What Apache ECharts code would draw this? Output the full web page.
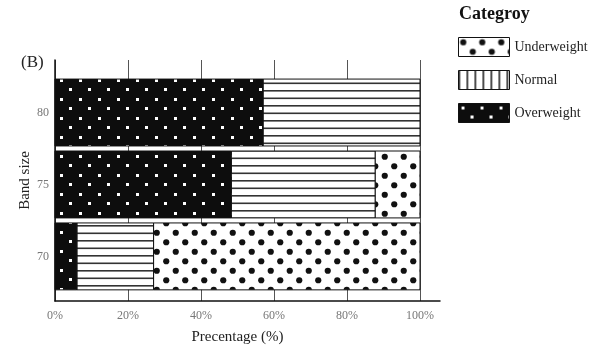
<!DOCTYPE html>
<html><head><meta charset="utf-8">
<script src="https://cdn.jsdelivr.net/npm/echarts@6/dist/echarts.min.js"></script>
<style>html,body{margin:0;padding:0;background:#fff}#c{width:605px;height:360px}</style>
</head><body><div id="c"></div>
<script>
// ---- data ----
const bandSizes = [80, 75, 70];
const seriesNames = ['Underweight', 'Normal', 'Overweight'];
const overweight = [57, 48.3, 6];
const normal = [43, 39.4, 21];
const underweight = [0, 12.3, 73];
const xTicks = [0, 20, 40, 60, 80, 100];

// ---- patterns ----
function mk(w, h, draw) { const c = document.createElement('canvas'); c.width = w; c.height = h; draw(c.getContext('2d')); return c; }
const dotsCanvas = mk(19, 19, g => {
  g.fillStyle = '#fff'; g.fillRect(0, 0, 19, 19); g.fillStyle = '#111';
  [[4.75, 4.75], [14.25, 14.25]].forEach(p => { g.beginPath(); g.arc(p[0], p[1], 3.1, 0, Math.PI * 2); g.fill(); });
});
const squaresCanvas = mk(19, 19, g => {
  g.fillStyle = '#0d0d0d'; g.fillRect(0, 0, 19, 19); g.fillStyle = '#fff';
  g.fillRect(3, 3, 3, 3); g.fillRect(12, 12, 3, 3);
});
const hLinesCanvas = mk(4, 15, g => {
  g.fillStyle = '#fff'; g.fillRect(0, 0, 4, 15); g.fillStyle = '#333';
  g.fillRect(0, 0, 4, 1.6); g.fillRect(0, 7.5, 4, 1.6);
});
const vLinesCanvas = mk(8, 4, g => {
  g.fillStyle = '#fff'; g.fillRect(0, 0, 8, 4); g.fillStyle = '#222';
  g.fillRect(0, 0, 1.6, 4);
});
const pat = c => ({ image: c, repeat: 'repeat' });
const fills = { Underweight: pat(dotsCanvas), Normal: pat(hLinesCanvas), Overweight: pat(squaresCanvas) };
const legendFills = { Underweight: pat(dotsCanvas), Normal: pat(vLinesCanvas), Overweight: pat(squaresCanvas) };

// segments [start, end, band]
const segs = { Overweight: [], Normal: [], Underweight: [] };
bandSizes.forEach((b, i) => {
  const a = overweight[i], n = normal[i], u = underweight[i];
  if (a > 0) segs.Overweight.push([0, a, b]);
  if (n > 0) segs.Normal.push([a, a + n, b]);
  if (u > 0) segs.Underweight.push([a + n, a + n + u, b]);
});
const barH = 4.65;
function makeRender(name) {
  return function (params, api) {
    const y = api.value(2);
    const s = api.coord([api.value(0), y]);
    const e = api.coord([api.value(1), y]);
    const h = api.size([0, barH])[1];
    return { type: 'rect', shape: { x: s[0], y: s[1] - h / 2, width: e[0] - s[0], height: h },
      style: { fill: fills[name], stroke: '#111', lineWidth: 1 } };
  };
}
const serif = 'Liberation Serif, Times New Roman, serif';
const chart = echarts.init(document.getElementById('c'), null, { renderer: 'canvas' });
chart.setOption({
  animation: false,
  backgroundColor: '#fff',
  title: [
    { text: '(B)', left: 16, top: 49, textStyle: { fontFamily: serif, fontSize: 17, fontWeight: 'normal', color: '#222' } },
    { text: 'Categroy', left: 454, top: 0, textStyle: { fontFamily: serif, fontSize: 18, fontWeight: 'bold', color: '#111' } }
  ],
  legend: {
    orient: 'vertical', left: 453, top: 32, itemWidth: 51, itemHeight: 19, itemGap: 13,
    icon: 'rect',
    textStyle: { fontFamily: serif, fontSize: 14, color: '#222' },
    data: seriesNames.map(n => ({ name: n, itemStyle: { color: legendFills[n], borderColor: '#111', borderWidth: 1 } }))
  },
  grid: [
    { left: 55, right: 185, top: 60, bottom: 59 },
    { left: 55, right: 165, top: 60, bottom: 59 }
  ],
  xAxis: [
    { type: 'value', gridIndex: 0, min: xTicks[0], max: xTicks[xTicks.length - 1], interval: 20,
      axisLine: { show: false }, axisTick: { show: false },
      splitLine: { show: true, lineStyle: { color: '#555', width: 1 } },
      axisLabel: { formatter: '{value}%', margin: 9, fontFamily: serif, fontSize: 12, color: '#777' },
      name: 'Precentage (%)', nameLocation: 'middle', nameGap: 29, nameMoveOverlap: false,
      nameTextStyle: { fontFamily: serif, fontSize: 15, color: '#222' } },
    { type: 'value', gridIndex: 1, min: 0, max: 1, axisLine: { show: true, lineStyle: { color: '#111', width: 1.5 } },
      axisTick: { show: false }, axisLabel: { show: false }, splitLine: { show: false } }
  ],
  yAxis: [
    { type: 'value', gridIndex: 0, min: 66.9, max: 83.65,
      axisLine: { show: true, lineStyle: { color: '#111', width: 1.5 } }, axisTick: { show: false },
      splitLine: { show: false },
      axisLabel: { customValues: bandSizes, margin: 6, fontFamily: serif, fontSize: 12, color: '#777' },
      name: 'Band size', nameLocation: 'middle', nameGap: 22, nameRotate: 90, nameMoveOverlap: false,
      nameTextStyle: { fontFamily: serif, fontSize: 15, color: '#222' } },
    { type: 'value', gridIndex: 1, show: false, min: 0, max: 1 }
  ],
  series: seriesNames.map(n => ({
    name: n, type: 'custom', xAxisIndex: 0, yAxisIndex: 0,
    itemStyle: { color: fills[n] },
    encode: { x: [0, 1], y: 2 },
    renderItem: makeRender(n), data: segs[n]
  }))
});
</script></body></html>
